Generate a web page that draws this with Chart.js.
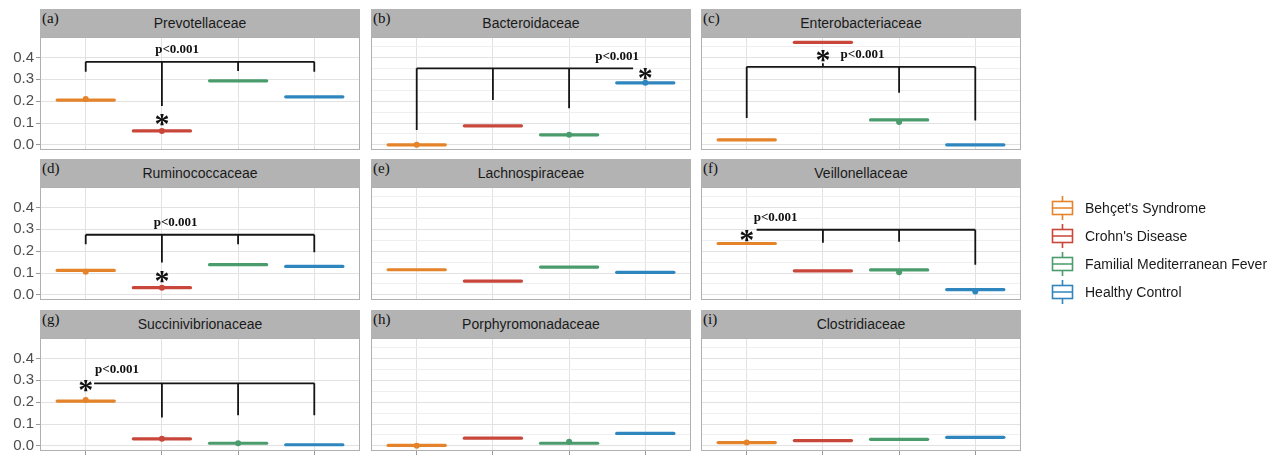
<!DOCTYPE html>
<html>
<head>
<meta charset="utf-8">
<script src="https://cdn.jsdelivr.net/npm/chart.js@4.4.1/dist/chart.umd.min.js"></script>
<style>
body { margin: 0; background: #fff; width: 1282px; height: 455px; overflow: hidden; position: relative; font-family: "Liberation Sans", Arial, sans-serif; }
.strip { position: absolute; height: 28px; background: #b3b3b3; color: #1a1a1a; font-size: 14px; line-height: 28px; text-align: center; }
.tag { position: absolute; left: 2px; top: 2px; font: 15px "Liberation Serif", serif; line-height: 15px; color: #111; }
canvas.panel { position: absolute; }
.legend { position: absolute; left: 1051px; top: 194px; }
.legend div { height: 28px; font-size: 14px; color: #1a1a1a; display: flex; align-items: center; }
.legend canvas { margin-right: 11px; }
</style>
</head>
<body>
<div class="legend" id="legend"></div>
<script>
const groups = ["Behçet's Syndrome", "Crohn's Disease", "Familial Mediterranean Fever", "Healthy Control"];
const families = ["Prevotellaceae", "Bacteroidaceae", "Enterobacteriaceae", "Ruminococcaceae", "Lachnospiraceae",
    "Veillonellaceae", "Succinivibrionaceae", "Porphyromonadaceae", "Clostridiaceae"];
const tags = ["(a)", "(b)", "(c)", "(d)", "(e)", "(f)", "(g)", "(h)", "(i)"];

// median of each group, one row per family
const medians = [
    [0.205, 0.064, 0.293, 0.220],
    [0.000, 0.087, 0.046, 0.284],
    [0.023, 0.469, 0.114, 0.000],
    [0.112, 0.033, 0.138, 0.130],
    [0.115, 0.063, 0.127, 0.103],
    [0.235, 0.110, 0.114, 0.024],
    [0.205, 0.032, 0.012, 0.005],
    [0.002, 0.035, 0.012, 0.057],
    [0.015, 0.024, 0.030, 0.039]
];
// visible points [group, value]
const dots = [
    [[0, 0.210], [1, 0.064]],
    [[0, 0.000], [2, 0.046], [3, 0.284]],
    [[2, 0.105]],
    [[0, 0.106], [1, 0.033]],
    [],
    [[2, 0.103], [3, 0.015]],
    [[0, 0.210], [1, 0.032], [2, 0.012]],
    [[0, 0.000], [2, 0.019]],
    [[0, 0.015]]
];
// significance brackets
const bracketY = [0.380, 0.350, 0.357, 0.275, null, 0.298, 0.286, null, null];
const bracketX = [[0, 3], [0, 2.84], [0, 3], [0, 3], null, [0.13, 3], [0.11, 3], null, null];
const bracketDrops = [
    [0.335, 0.178, 0.338, 0.335],
    [0.068, 0.205, 0.168, null],
    [0.123, 0.373, 0.239, 0.111],
    [0.232, 0.148, 0.232, 0.195],
    null,
    [null, 0.238, 0.243, 0.138],
    [null, 0.130, 0.140, 0.140],
    null,
    null
];
const stars = [[1, 0.123], [3, 0.335], [1, 0.415], [1, 0.093], null, [0, 0.280], [0, 0.283], null, null];
const pLabels = [[1.20, 0.434], [2.63, 0.405], [1.52, 0.415], [1.18, 0.332], null, [0.38, 0.355], [0.41, 0.347], null, null];
const pText = "p<0.001";

const yTicks = [0, 0.05, 0.1, 0.15, 0.2, 0.25, 0.3, 0.35, 0.4, 0.45];
const xTicks = [0, 1, 2, 3];

const colors = ["#e5832a", "#c8473a", "#4a9c6c", "#2f86be"];
const colLeft = [40, 371, 701];
const rowTop = [9, 159, 310];
const plotW = 320, plotH = 113, stripH = 28;

const isMajor = v => Math.abs(v * 10 - Math.round(v * 10)) < 1e-6;

function noPad(s) {
    s.paddingTop = 0; s.paddingBottom = 0; s.paddingLeft = 0; s.paddingRight = 0;
}

function seg(x1, y1, x2, y2) {
    return {
        data: [{ x: x1, y: y1 }, { x: x2, y: y2 }],
        borderColor: "#151515", borderWidth: 1.8, pointRadius: 0, borderCapStyle: "butt"
    };
}

families.forEach(function (name, k) {
    const r = Math.floor(k / 3), c = k % 3;

    const strip = document.createElement("div");
    strip.className = "strip";
    strip.style.left = colLeft[c] + "px";
    strip.style.top = rowTop[r] + "px";
    strip.style.width = plotW + "px";
    strip.textContent = name;
    const tag = document.createElement("span");
    tag.className = "tag";
    tag.textContent = tags[k];
    strip.appendChild(tag);
    document.body.appendChild(strip);

    const cv = document.createElement("canvas");
    cv.className = "panel";
    const w = c === 0 ? plotW + colLeft[0] : plotW;
    const h = r === 2 ? plotH + 4 : plotH;
    cv.width = w; cv.height = h;
    cv.style.width = w + "px"; cv.style.height = h + "px";
    cv.style.left = (c === 0 ? 0 : colLeft[c]) + "px";
    cv.style.top = (rowTop[r] + stripH) + "px";
    document.body.appendChild(cv);

    const datasets = [];
    // points on top
    groups.forEach(function (g, i) {
        const pts = dots[k].filter(d => d[0] === i).map(d => ({ x: d[0], y: d[1] }));
        if (pts.length) {
            datasets.push({ data: pts, showLine: false, pointRadius: 3, pointBackgroundColor: colors[i], pointBorderWidth: 0 });
        }
    });
    // collapsed boxes
    medians[k].forEach(function (m, i) {
        datasets.push({
            data: [{ x: i - 0.375, y: m }, { x: i + 0.375, y: m }],
            borderColor: colors[i], borderWidth: 3.2, pointRadius: 0, borderCapStyle: "round"
        });
    });
    // brackets
    if (bracketY[k] !== null) {
        const L = bracketY[k];
        datasets.push(seg(bracketX[k][0], L, bracketX[k][1], L));
        bracketDrops[k].forEach(function (d, i) {
            if (d !== null) datasets.push(seg(i, L, i, d));
        });
    }

    const decor = {
        id: "decor" + k,
        afterDatasetsDraw(chart) {
            const ctx = chart.ctx, xs = chart.scales.x, ys = chart.scales.y, a = chart.chartArea;
            ctx.save();
            ctx.fillStyle = "#111";
            ctx.textAlign = "center";
            if (pLabels[k]) {
                ctx.font = 'bold 13px "Liberation Serif", serif';
                ctx.textBaseline = "middle";
                ctx.fillText(pText, xs.getPixelForValue(pLabels[k][0]), ys.getPixelForValue(pLabels[k][1]));
            }
            if (stars[k]) {
                ctx.font = 'bold 30px "Liberation Serif", serif';
                ctx.textBaseline = "alphabetic";
                ctx.fillText("*", xs.getPixelForValue(stars[k][0]), ys.getPixelForValue(stars[k][1]) + 15);
            }
            ctx.strokeStyle = "#b0b0b0";
            ctx.lineWidth = 1;
            ctx.strokeRect(a.left + 0.5, a.top + 0.5, a.right - a.left - 1, a.bottom - a.top - 1);
            ctx.restore();
        }
    };

    new Chart(cv, {
        type: "line",
        data: { datasets: datasets },
        options: {
            responsive: false,
            animation: false,
            events: [],
            layout: { padding: 0, autoPadding: false },
            plugins: { legend: { display: false }, tooltip: { enabled: false } },
            scales: {
                x: {
                    type: "linear", min: -0.6, max: 3.6,
                    afterBuildTicks: s => { s.ticks = xTicks.map(v => ({ value: v })); },
                    afterFit: s => { s.height = r === 2 ? 4 : 0; noPad(s); },
                    ticks: { display: false },
                    grid: { color: "#e2e2e2", drawTicks: r === 2, tickLength: 4, tickColor: "#999" },
                    border: { display: false }
                },
                y: {
                    type: "linear", min: -0.0235, max: 0.4935,
                    afterBuildTicks: s => { s.ticks = yTicks.map(v => ({ value: v })); },
                    afterFit: s => { s.width = c === 0 ? colLeft[0] : 0; noPad(s); },
                    ticks: {
                        display: c === 0, padding: 2, color: "#4d4d4d",
                        font: { family: "Liberation Sans", size: 15 },
                        callback: v => isMajor(v) ? v.toFixed(1) : ""
                    },
                    grid: {
                        color: ctx => isMajor(ctx.tick.value) ? "#e2e2e2" : "#efefef",
                        drawTicks: c === 0, tickLength: 4,
                        tickColor: ctx => isMajor(ctx.tick.value) ? "#999" : "rgba(0,0,0,0)"
                    },
                    border: { display: false }
                }
            }
        },
        plugins: [decor]
    });
});

// legend
const legend = document.getElementById("legend");
groups.forEach(function (g, i) {
    const row = document.createElement("div");
    const ic = document.createElement("canvas");
    ic.width = 23; ic.height = 24;
    const c2 = ic.getContext("2d");
    c2.strokeStyle = colors[i];
    c2.lineWidth = 1.6;
    c2.strokeRect(1.5, 5.5, 20, 13);
    c2.beginPath();
    c2.moveTo(1.5, 12); c2.lineTo(21.5, 12);
    c2.moveTo(11.5, 0); c2.lineTo(11.5, 5.5);
    c2.moveTo(11.5, 18.5); c2.lineTo(11.5, 24);
    c2.stroke();
    row.appendChild(ic);
    const t = document.createElement("span");
    t.textContent = g;
    row.appendChild(t);
    legend.appendChild(row);
});
</script>
</body>
</html>
